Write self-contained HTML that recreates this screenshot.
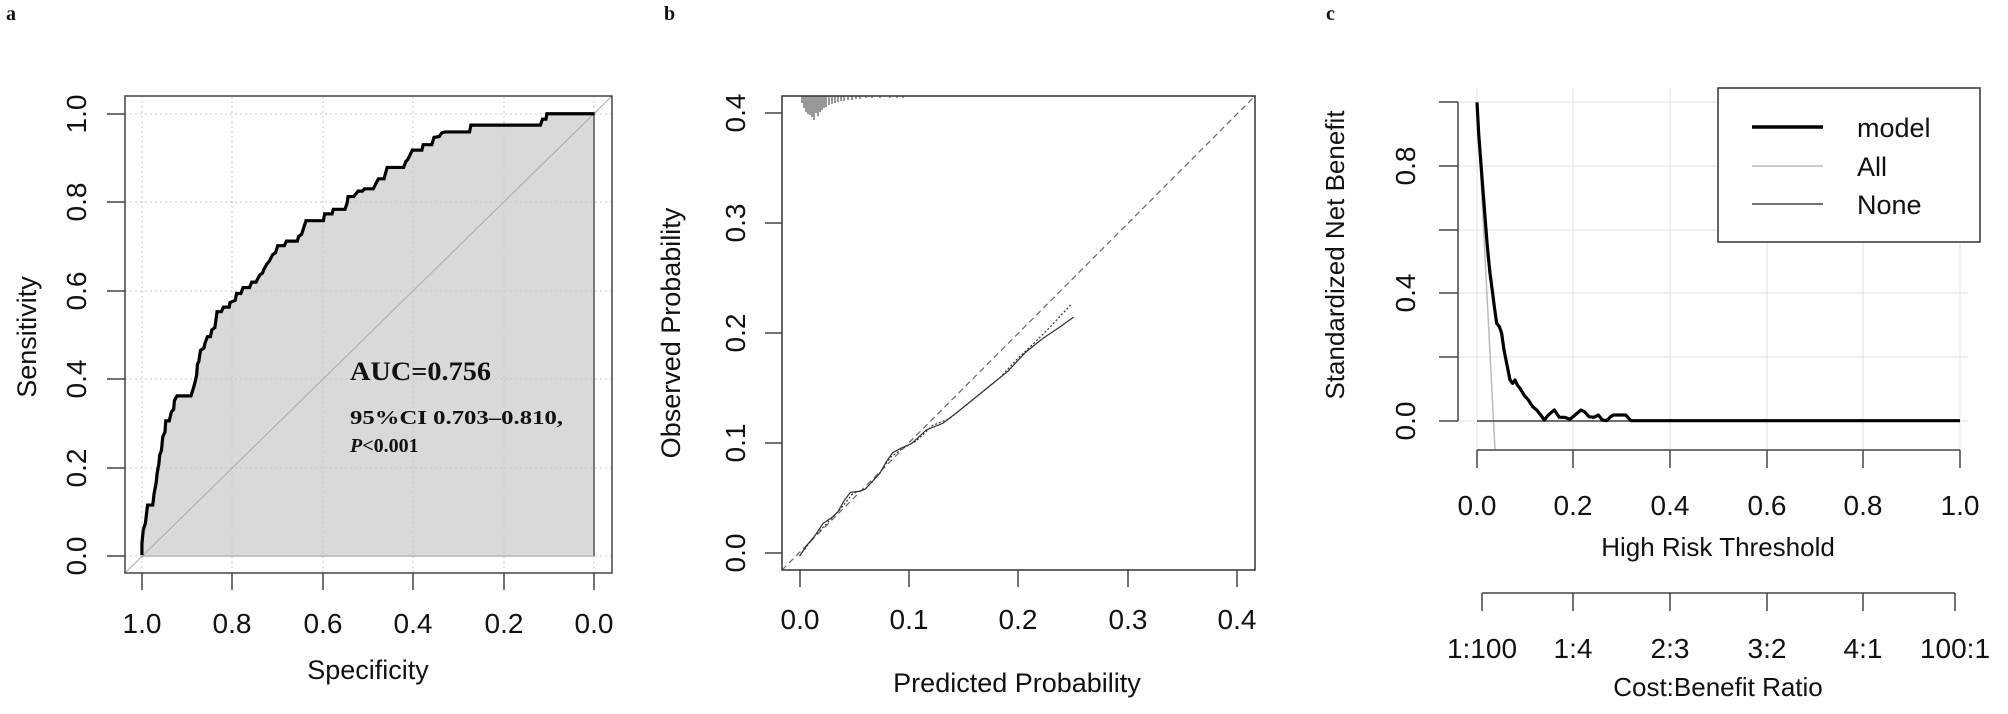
<!DOCTYPE html>
<html><head><meta charset="utf-8"><style>
html,body{margin:0;padding:0;background:#fff;}
svg{display:block;}
text{font-family:"Liberation Sans",Arial,sans-serif;fill:#111;}
.serif{font-family:"Liberation Serif","Times New Roman",serif;font-weight:bold;}
</style></head><body>
<svg width="2008" height="714" viewBox="0 0 2008 714" xmlns="http://www.w3.org/2000/svg">
<rect width="2008" height="714" fill="#fff"/>
<text class="serif" x="6" y="20" font-size="20">a</text>
<text class="serif" x="664" y="20" font-size="20">b</text>
<text class="serif" x="1326" y="20" font-size="20">c</text>

<!-- ================= Panel a ================= -->
<g>
<polygon transform="scale(0.434,0.455)" fill="#d9d9d9" stroke="none" points="327,1220 327,1195 330,1165 335,1150 340,1110 352,1110 355,1085 360,1060 362,1040 366,1020 368,1000 372,990 375,960 380,950 382,925 390,925 395,905 400,900 402,880 408,870 440,870 445,855 448,845 453,825 455,800 458,795 462,770 470,765 472,755 478,740 485,740 488,725 495,720 498,700 500,685 510,685 515,675 528,675 530,665 542,660 545,645 555,645 560,632 575,632 580,620 590,620 598,605 605,600 608,592 615,580 620,575 628,560 635,555 640,540 655,540 660,530 685,530 688,520 695,515 700,500 705,485 745,485 748,470 765,470 768,460 795,460 800,445 802,432 815,432 825,420 835,420 840,415 860,415 868,400 872,393 885,393 890,375 892,368 930,368 935,355 940,350 945,340 950,330 972,330 975,318 995,318 1000,302 1012,300 1018,292 1025,290 1082,290 1085,275 1245,275 1250,262 1258,262 1260,250 1370,250 1370,1220"/>
<g stroke="#c8c8c8" stroke-width="1" stroke-dasharray="2,3">
<line x1="142" y1="96" x2="142" y2="573"/><line x1="232" y1="96" x2="232" y2="573"/><line x1="323" y1="96" x2="323" y2="573"/><line x1="413" y1="96" x2="413" y2="573"/><line x1="504" y1="96" x2="504" y2="573"/><line x1="594" y1="96" x2="594" y2="573"/>
<line x1="125" y1="556" x2="612" y2="556"/><line x1="125" y1="468" x2="612" y2="468"/><line x1="125" y1="379" x2="612" y2="379"/><line x1="125" y1="291" x2="612" y2="291"/><line x1="125" y1="202" x2="612" y2="202"/><line x1="125" y1="114" x2="612" y2="114"/>
</g>
<line x1="125" y1="573" x2="612" y2="96" stroke="#aaa" stroke-width="1"/>
<line x1="594" y1="114" x2="594" y2="556" stroke="#555" stroke-width="1.5"/>
<line x1="142" y1="556" x2="594" y2="556" stroke="#888" stroke-width="1"/>
<polyline transform="scale(0.434,0.455)" fill="none" stroke="#000" stroke-width="3.2" vector-effect="non-scaling-stroke" stroke-linejoin="miter" points="327,1220 327,1195 330,1165 335,1150 340,1110 352,1110 355,1085 360,1060 362,1040 366,1020 368,1000 372,990 375,960 380,950 382,925 390,925 395,905 400,900 402,880 408,870 440,870 445,855 448,845 453,825 455,800 458,795 462,770 470,765 472,755 478,740 485,740 488,725 495,720 498,700 500,685 510,685 515,675 528,675 530,665 542,660 545,645 555,645 560,632 575,632 580,620 590,620 598,605 605,600 608,592 615,580 620,575 628,560 635,555 640,540 655,540 660,530 685,530 688,520 695,515 700,500 705,485 745,485 748,470 765,470 768,460 795,460 800,445 802,432 815,432 825,420 835,420 840,415 860,415 868,400 872,393 885,393 890,375 892,368 930,368 935,355 940,350 945,340 950,330 972,330 975,318 995,318 1000,302 1012,300 1018,292 1025,290 1082,290 1085,275 1245,275 1250,262 1258,262 1260,250 1370,250"/>
<rect x="125" y="96" width="487" height="477" fill="none" stroke="#444" stroke-width="1.5"/>
<g stroke="#444" stroke-width="1.5">
<line x1="107" y1="556" x2="125" y2="556"/><line x1="107" y1="468" x2="125" y2="468"/><line x1="107" y1="379" x2="125" y2="379"/><line x1="107" y1="291" x2="125" y2="291"/><line x1="107" y1="202" x2="125" y2="202"/><line x1="107" y1="114" x2="125" y2="114"/>
<line x1="142" y1="573" x2="142" y2="590"/><line x1="232" y1="573" x2="232" y2="590"/><line x1="323" y1="573" x2="323" y2="590"/><line x1="413" y1="573" x2="413" y2="590"/><line x1="504" y1="573" x2="504" y2="590"/><line x1="594" y1="573" x2="594" y2="590"/>
</g>
<g font-size="28" text-anchor="middle">
<text x="142" y="633">1.0</text><text x="232" y="633">0.8</text><text x="323" y="633">0.6</text><text x="413" y="633">0.4</text><text x="504" y="633">0.2</text><text x="594" y="633">0.0</text>
<text transform="translate(86,556) rotate(-90)">0.0</text>
<text transform="translate(86,468) rotate(-90)">0.2</text>
<text transform="translate(86,379) rotate(-90)">0.4</text>
<text transform="translate(86,291) rotate(-90)">0.6</text>
<text transform="translate(86,202) rotate(-90)">0.8</text>
<text transform="translate(86,114) rotate(-90)">1.0</text>
</g>
<text x="368" y="679" font-size="27" text-anchor="middle">Specificity</text>
<text transform="translate(36,337) rotate(-90)" font-size="27" text-anchor="middle">Sensitivity</text>
<text class="serif" x="350" y="380" font-size="26" textLength="141" lengthAdjust="spacingAndGlyphs">AUC=0.756</text>
<text class="serif" x="350" y="424" font-size="20" textLength="213" lengthAdjust="spacingAndGlyphs">95%CI 0.703–0.810,</text>
<text class="serif" x="350" y="452" font-size="20"><tspan font-style="italic">P</tspan>&lt;0.001</text>
</g>

<!-- ================= Panel b ================= -->
<g>
<line x1="782" y1="570" x2="1255" y2="96" stroke="#666" stroke-width="1.2" stroke-dasharray="6,4"/>
<polyline transform="translate(680,0) scale(0.421,0.455)" fill="none" stroke="#333" stroke-width="1.2" vector-effect="non-scaling-stroke" points="284,1222 300,1200 320,1178 340,1150 360,1138 375,1125 390,1100 405,1082 425,1080 440,1075 460,1055 475,1040 490,1015 505,995 525,985 550,975 585,945 625,930 660,905 700,875 740,845 780,815 820,775 860,745 900,720 935,697"/>
<polyline transform="translate(680,0) scale(0.421,0.455)" fill="none" stroke="#333" stroke-width="1.2" stroke-dasharray="2,2" vector-effect="non-scaling-stroke" points="284,1222 320,1178 380,1120 410,1085 440,1075 470,1045 500,1005 530,985 560,970 600,935 640,920 680,890 720,860 760,830 800,790 840,755 880,718 928,670"/>
<g stroke="#333" stroke-width="1">
<line x1="802" y1="96" x2="802" y2="103"/><line x1="804" y1="96" x2="804" y2="108"/><line x1="806" y1="96" x2="806" y2="112"/><line x1="808" y1="96" x2="808" y2="114"/><line x1="810" y1="96" x2="810" y2="115"/><line x1="812" y1="96" x2="812" y2="117"/><line x1="814" y1="96" x2="814" y2="120"/><line x1="816" y1="96" x2="816" y2="113"/><line x1="818" y1="96" x2="818" y2="116"/><line x1="820" y1="96" x2="820" y2="112"/><line x1="822" y1="96" x2="822" y2="110"/><line x1="824" y1="96" x2="824" y2="108"/><line x1="826" y1="96" x2="826" y2="107"/><line x1="829" y1="96" x2="829" y2="105"/><line x1="832" y1="96" x2="832" y2="104"/><line x1="835" y1="96" x2="835" y2="103"/><line x1="838" y1="96" x2="838" y2="102"/><line x1="841" y1="96" x2="841" y2="101"/><line x1="844" y1="96" x2="844" y2="101"/><line x1="848" y1="96" x2="848" y2="100"/><line x1="852" y1="96" x2="852" y2="100"/><line x1="856" y1="96" x2="856" y2="99"/><line x1="860" y1="96" x2="860" y2="99"/><line x1="866" y1="96" x2="866" y2="98"/><line x1="872" y1="96" x2="872" y2="98"/><line x1="880" y1="96" x2="880" y2="98"/><line x1="890" y1="96" x2="890" y2="98"/><line x1="897" y1="96" x2="897" y2="98"/><line x1="903" y1="96" x2="903" y2="98"/>
</g>
<rect x="782" y="96" width="473" height="474" fill="none" stroke="#333" stroke-width="1.5"/>
<g stroke="#444" stroke-width="1.5">
<line x1="765" y1="553" x2="782" y2="553"/><line x1="765" y1="443" x2="782" y2="443"/><line x1="765" y1="333" x2="782" y2="333"/><line x1="765" y1="223" x2="782" y2="223"/><line x1="765" y1="113" x2="782" y2="113"/>
<line x1="800" y1="570" x2="800" y2="587"/><line x1="909" y1="570" x2="909" y2="587"/><line x1="1018" y1="570" x2="1018" y2="587"/><line x1="1128" y1="570" x2="1128" y2="587"/><line x1="1237" y1="570" x2="1237" y2="587"/>
</g>
<g font-size="28" text-anchor="middle">
<text x="800" y="629">0.0</text><text x="909" y="629">0.1</text><text x="1018" y="629">0.2</text><text x="1128" y="629">0.3</text><text x="1237" y="629">0.4</text>
<text transform="translate(745,553) rotate(-90)">0.0</text>
<text transform="translate(745,443) rotate(-90)">0.1</text>
<text transform="translate(745,333) rotate(-90)">0.2</text>
<text transform="translate(745,223) rotate(-90)">0.3</text>
<text transform="translate(745,113) rotate(-90)">0.4</text>
</g>
<text x="1017" y="692" font-size="27" text-anchor="middle">Predicted Probability</text>
<text transform="translate(680,333) rotate(-90)" font-size="27" text-anchor="middle">Observed Probability</text>
</g>

<!-- ================= Panel c ================= -->
<g>
<g stroke="#ebebeb" stroke-width="1.5">
<line x1="1477" y1="88" x2="1477" y2="450"/><line x1="1573" y1="88" x2="1573" y2="450"/><line x1="1670" y1="88" x2="1670" y2="450"/><line x1="1767" y1="88" x2="1767" y2="450"/><line x1="1863" y1="88" x2="1863" y2="450"/><line x1="1960" y1="88" x2="1960" y2="450"/>
<line x1="1458" y1="102" x2="1968" y2="102"/><line x1="1458" y1="166" x2="1968" y2="166"/><line x1="1458" y1="230" x2="1968" y2="230"/><line x1="1458" y1="293" x2="1968" y2="293"/><line x1="1458" y1="357" x2="1968" y2="357"/><line x1="1458" y1="421" x2="1968" y2="421"/>
</g>
<line x1="1477" y1="102" x2="1495" y2="450" stroke="#bbb" stroke-width="1.5"/>
<line x1="1477" y1="421" x2="1960" y2="421" stroke="#444" stroke-width="1.5"/>
<polyline transform="translate(1400,60) scale(0.33333)" fill="none" stroke="#000" stroke-width="3.2" vector-effect="non-scaling-stroke" stroke-linejoin="round" points="231,127 236,220 242,300 248,380 255,470 262,560 270,640 278,700 283,740 290,790 298,800 305,820 312,870 320,910 330,960 338,970 345,960 352,975 360,985 372,1005 385,1020 398,1040 410,1050 422,1065 433,1080 445,1065 463,1050 478,1072 495,1072 510,1078 525,1065 543,1050 553,1055 567,1070 582,1072 595,1065 607,1080 620,1082 632,1070 640,1065 677,1065 693,1082 1680,1082"/>
<g stroke="#444" stroke-width="1.5" fill="none">
<line x1="1458" y1="102" x2="1458" y2="421"/>
<line x1="1439" y1="102" x2="1458" y2="102"/><line x1="1439" y1="166" x2="1458" y2="166"/><line x1="1439" y1="230" x2="1458" y2="230"/><line x1="1439" y1="293" x2="1458" y2="293"/><line x1="1439" y1="357" x2="1458" y2="357"/><line x1="1439" y1="421" x2="1458" y2="421"/>
<line x1="1477" y1="450" x2="1960" y2="450"/>
<line x1="1477" y1="450" x2="1477" y2="468"/><line x1="1573" y1="450" x2="1573" y2="468"/><line x1="1670" y1="450" x2="1670" y2="468"/><line x1="1767" y1="450" x2="1767" y2="468"/><line x1="1863" y1="450" x2="1863" y2="468"/><line x1="1960" y1="450" x2="1960" y2="468"/>
<line x1="1482" y1="593" x2="1955" y2="593"/>
<line x1="1482" y1="593" x2="1482" y2="611"/><line x1="1573" y1="593" x2="1573" y2="611"/><line x1="1670" y1="593" x2="1670" y2="611"/><line x1="1767" y1="593" x2="1767" y2="611"/><line x1="1863" y1="593" x2="1863" y2="611"/><line x1="1955" y1="593" x2="1955" y2="611"/>
</g>
<g font-size="28" text-anchor="middle">
<text transform="translate(1415,421) rotate(-90)">0.0</text>
<text transform="translate(1415,293) rotate(-90)">0.4</text>
<text transform="translate(1415,166) rotate(-90)">0.8</text>
<text x="1477" y="515">0.0</text><text x="1573" y="515">0.2</text><text x="1670" y="515">0.4</text><text x="1767" y="515">0.6</text><text x="1863" y="515">0.8</text><text x="1960" y="515">1.0</text>
<text x="1482" y="658">1:100</text><text x="1573" y="658">1:4</text><text x="1670" y="658">2:3</text><text x="1767" y="658">3:2</text><text x="1863" y="658">4:1</text><text x="1955" y="658">100:1</text>
</g>
<text x="1718" y="556" font-size="26" text-anchor="middle">High Risk Threshold</text>
<text x="1718" y="696" font-size="26" text-anchor="middle">Cost:Benefit Ratio</text>
<text transform="translate(1344,255) rotate(-90)" font-size="26" text-anchor="middle">Standardized Net Benefit</text>
<rect x="1718" y="88" width="262" height="154" fill="#fff" stroke="#333" stroke-width="1.5"/>
<line x1="1752" y1="127" x2="1823" y2="127" stroke="#000" stroke-width="3.5"/>
<line x1="1752" y1="166" x2="1823" y2="166" stroke="#bbb" stroke-width="1.5"/>
<line x1="1752" y1="204" x2="1823" y2="204" stroke="#444" stroke-width="1.5"/>
<g font-size="27">
<text x="1857" y="137">model</text>
<text x="1857" y="176">All</text>
<text x="1857" y="214">None</text>
</g>
</g>
</svg>
</body></html>
